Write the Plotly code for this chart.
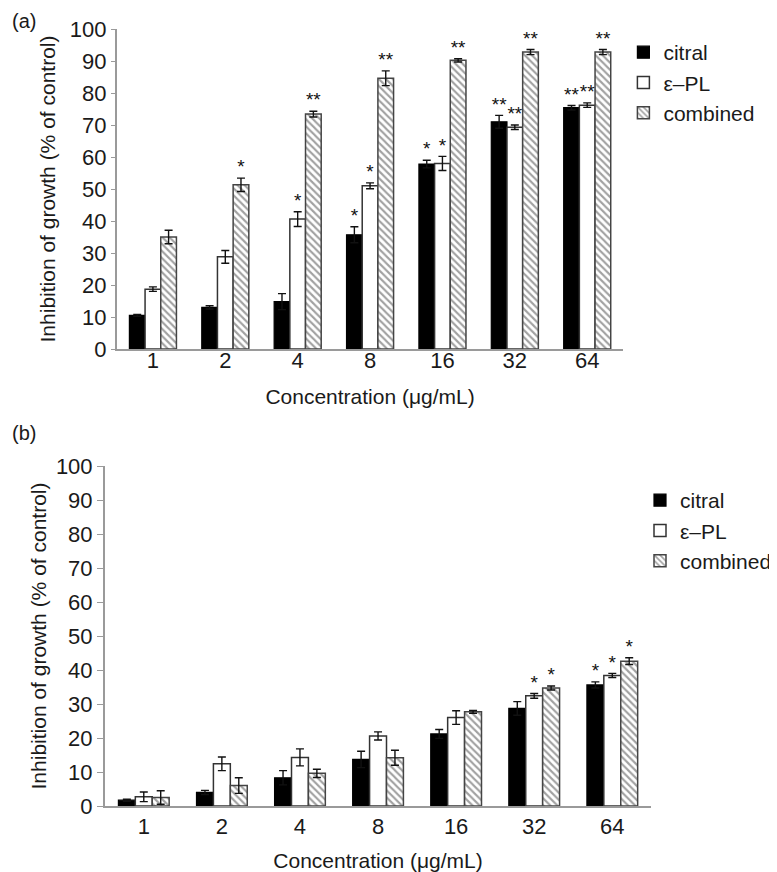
import plotly.graph_objects as go

categories = ["1", "2", "4", "8", "16", "32", "64"]
series_names = ["citral", "ε–PL", "combined"]

# Panel (a)
a_citral = [10.5, 13.0, 14.8, 35.7, 57.8, 71.0, 75.4]
a_citral_err = [0.3, 0.5, 2.5, 2.5, 1.2, 2.0, 0.7]
a_pl = [18.7, 28.8, 40.6, 51.0, 58.0, 69.3, 76.2]
a_pl_err = [0.7, 2.0, 2.3, 0.9, 2.2, 0.7, 0.7]
a_comb = [35.0, 51.3, 73.4, 84.6, 90.2, 92.8, 92.8]
a_comb_err = [2.1, 2.1, 0.9, 2.3, 0.5, 0.8, 0.8]
a_citral_sig = ["", "", "", "*", "*", "**", "**"]
a_pl_sig = ["", "", "*", "*", "*", "**", "**"]
a_comb_sig = ["", "*", "**", "**", "**", "**", "**"]

# Panel (b)
b_citral = [1.7, 4.0, 8.3, 13.7, 21.2, 28.7, 35.6]
b_citral_err = [0.3, 0.6, 2.1, 2.4, 1.3, 2.0, 0.9]
b_pl = [2.7, 12.4, 14.3, 20.6, 26.0, 32.4, 38.4]
b_pl_err = [1.4, 2.0, 2.5, 1.2, 2.0, 0.7, 0.6]
b_comb = [2.5, 6.0, 9.6, 14.2, 27.7, 34.7, 42.6]
b_comb_err = [2.0, 2.3, 1.2, 2.2, 0.4, 0.6, 1.0]
b_citral_sig = ["", "", "", "", "", "", "*"]
b_pl_sig = ["", "", "", "", "", "*", "*"]
b_comb_sig = ["", "", "", "", "", "*", "*"]

# page is offset by the default 8px body margin
OFF = 8
W, H = 777 - OFF, 872 - OFF
FONT = "Liberation Sans, Arial, Helvetica, sans-serif"

styles = [
    dict(color="#000000", line=dict(color="#000000", width=1.2)),
    dict(color="#ffffff", line=dict(color="#333333", width=1.5)),
    dict(color="#ffffff", line=dict(color="#444444", width=1.5),
         pattern=dict(shape="\\", fgcolor="#444444", bgcolor="#ffffff", size=5, solidity=0.42)),
]
groups = ["g1", "g2", "g3"]

fig = go.Figure()

panels = [
    ("x", "y", "legend", [a_citral, a_pl, a_comb], [a_citral_err, a_pl_err, a_comb_err],
     [a_citral_sig, a_pl_sig, a_comb_sig]),
    ("x2", "y2", "legend2", [b_citral, b_pl, b_comb], [b_citral_err, b_pl_err, b_comb_err],
     [b_citral_sig, b_pl_sig, b_comb_sig]),
]

for xa, ya, lg, vals, errs, sigs in panels:
    for i in range(3):
        fig.add_trace(go.Bar(
            x=categories, y=vals[i], name=series_names[i],
            marker=styles[i], offsetgroup=groups[i],
            error_y=dict(type="data", array=errs[i], color="#111111", thickness=1.4, width=4),
            xaxis=xa, yaxis=ya, legend=lg,
        ))
    for i in range(3):
        fig.add_trace(go.Scatter(
            x=categories, y=[v + e for v, e in zip(vals[i], errs[i])],
            mode="text", text=sigs[i], textposition="top center",
            textfont=dict(size=19, color="#111111", family=FONT),
            offsetgroup=groups[i], xaxis=xa, yaxis=ya,
            showlegend=False, cliponaxis=False, hoverinfo="skip",
        ))


def px(x):
    return (x - OFF) / W


def py(y):
    return 1 - (y - OFF) / H


axis_common = dict(
    showgrid=False, zeroline=False, showline=True, linecolor="#9a9a9a", linewidth=1.5,
    tickfont=dict(size=22, color="#1a1a1a", family=FONT), automargin=False,
)

fig.update_layout(
    width=W, height=H,
    margin=dict(l=0, r=0, t=0, b=0),
    paper_bgcolor="white", plot_bgcolor="white",
    font=dict(family=FONT, color="#1a1a1a"),
    barmode="group", bargap=0.35, bargroupgap=0,
    scattermode="group",
    xaxis=dict(domain=[px(117), px(625)], anchor="y", ticks="", ticklen=0,
               ticklabelstandoff=-9,
               title=dict(text="Concentration (μg/mL)", font=dict(size=21), standoff=17),
               **axis_common),
    yaxis=dict(domain=[py(349), py(29)], anchor="x", range=[0, 100], dtick=10,
               ticks="outside", ticklen=4, tickcolor="#9a9a9a",
               title=dict(text="Inhibition of growth (% of control)", font=dict(size=21), standoff=8),
               **axis_common),
    xaxis2=dict(domain=[px(105), px(653)], anchor="y2", ticks="", ticklen=0,
                ticklabelstandoff=0,
                title=dict(text="Concentration (μg/mL)", font=dict(size=21), standoff=17),
                **axis_common),
    yaxis2=dict(domain=[py(806), py(466)], anchor="x2", range=[0, 100], dtick=10,
                ticks="outside", ticklen=6, tickcolor="#9a9a9a",
                title=dict(text="Inhibition of growth (% of control)", font=dict(size=21), standoff=4),
                **axis_common),
    legend=dict(x=px(625), y=py(32), xanchor="left", yanchor="top",
                font=dict(size=21, family=FONT), bgcolor="rgba(0,0,0,0)",
                tracegroupgap=0, itemwidth=30),
    legend2=dict(x=px(642), y=py(480), xanchor="left", yanchor="top",
                 font=dict(size=21, family=FONT), bgcolor="rgba(0,0,0,0)",
                 tracegroupgap=0, itemwidth=30),
    annotations=[
        dict(text="(a)", x=px(10), y=py(21), xref="paper", yref="paper",
             xanchor="left", yanchor="middle", showarrow=False, font=dict(size=20)),
        dict(text="(b)", x=px(10), y=py(433), xref="paper", yref="paper",
             xanchor="left", yanchor="middle", showarrow=False, font=dict(size=20)),
    ],
)

fig.write_html("out.html")
